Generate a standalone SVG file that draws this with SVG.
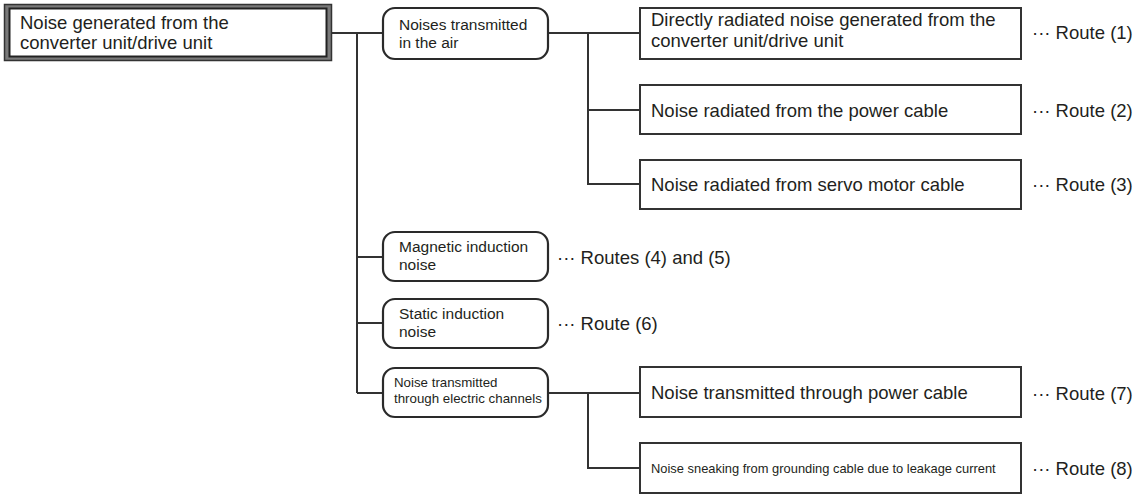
<svg xmlns="http://www.w3.org/2000/svg" width="1140" height="495" viewBox="0 0 1140 495">
<style>
text{font-family:"Liberation Sans",Arial,sans-serif;fill:#231f20}
.big{font-size:18.5px}
.mid{font-size:15.5px}
.sm{font-size:13.3px}
.xs{font-size:12.9px}
.box{fill:#fff;stroke:#333;stroke-width:2}
.rbox{fill:#fff;stroke:#2a2a2a;stroke-width:2.2}
.ln{fill:none;stroke:#333;stroke-width:2}
</style>
<rect width="1140" height="495" fill="#fff"/>
<g id="connectors">
<path class="ln" d="M332 33H383M357 33V393M357 257H383M357 323H383M357 393H383"/>
<path class="ln" d="M548 33H640M588 33V184H640M588 110H640"/>
<path class="ln" d="M548 393H640M588 393V468H640"/>
</g>
<g id="root">
<rect x="4.5" y="4.5" width="327" height="56" fill="#7a7a7a" stroke="#333" stroke-width="1.5"/>
<rect x="9.5" y="8.5" width="317" height="48" fill="#fff" stroke="#222" stroke-width="2"/>
<text class="big" x="20" y="29">Noise generated from the</text>
<text class="big" x="20" y="49">converter unit/drive unit</text>
</g>
<g id="air">
<rect class="rbox" x="383" y="8" width="165" height="51" rx="12"/>
<text class="mid" x="399" y="30">Noises transmitted</text>
<text class="mid" x="399" y="48">in the air</text>
</g>
<g id="r1">
<rect class="box" x="640" y="8" width="381" height="51"/>
<text class="big" x="651" y="26">Directly radiated noise generated from the</text>
<text class="big" x="651" y="47">converter unit/drive unit</text>
<text class="big" x="1032" y="39">··· Route (1)</text>
</g>
<g id="r2">
<rect class="box" x="640" y="85" width="381" height="49"/>
<text class="big" x="651" y="117">Noise radiated from the power cable</text>
<text class="big" x="1032" y="117">··· Route (2)</text>
</g>
<g id="r3">
<rect class="box" x="640" y="160" width="381" height="49"/>
<text class="big" x="651" y="191">Noise radiated from servo motor cable</text>
<text class="big" x="1032" y="191">··· Route (3)</text>
</g>
<g id="magnetic">
<rect class="rbox" x="383" y="232" width="165" height="49" rx="12"/>
<text class="mid" x="399" y="252">Magnetic induction</text>
<text class="mid" x="399" y="270">noise</text>
<text class="big" x="557" y="264">··· Routes (4) and (5)</text>
</g>
<g id="static">
<rect class="rbox" x="383" y="299" width="165" height="49" rx="12"/>
<text class="mid" x="399" y="319">Static induction</text>
<text class="mid" x="399" y="337">noise</text>
<text class="big" x="557" y="330">··· Route (6)</text>
</g>
<g id="electric">
<rect class="rbox" x="383" y="368" width="165" height="49" rx="12"/>
<text class="sm" x="394" y="387">Noise transmitted</text>
<text class="sm" x="394" y="403">through electric channels</text>
</g>
<g id="r7">
<rect class="box" x="640" y="367" width="381" height="50"/>
<text class="big" x="651" y="399">Noise transmitted through power cable</text>
<text class="big" x="1032" y="400">··· Route (7)</text>
</g>
<g id="r8">
<rect class="box" x="640" y="443" width="381" height="50"/>
<text class="xs" x="651" y="473">Noise sneaking from grounding cable due to leakage current</text>
<text class="big" x="1032" y="475">··· Route (8)</text>
</g>
</svg>
